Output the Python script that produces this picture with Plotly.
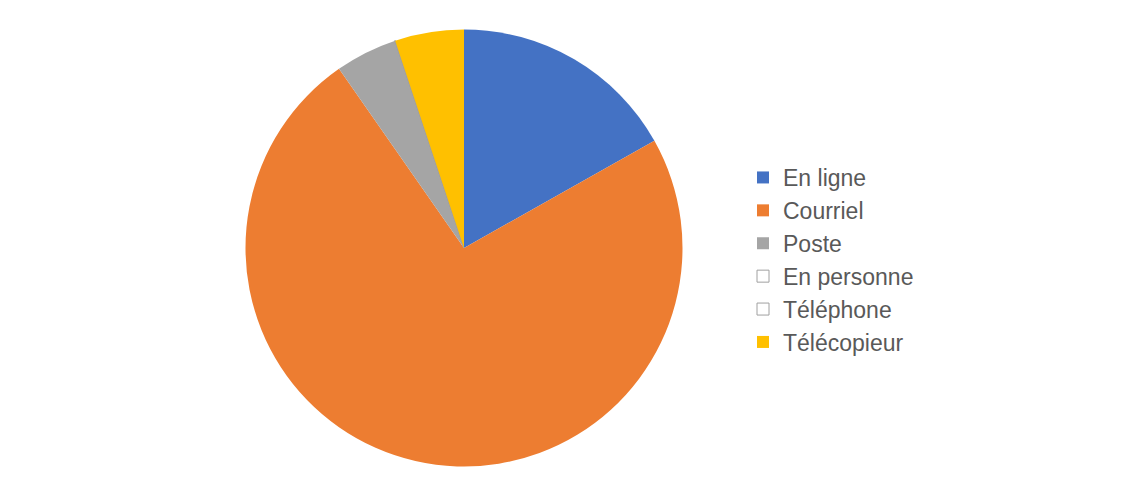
import plotly.graph_objects as go

labels = ["En ligne", "Courriel", "Poste", "En personne", "Téléphone", "Télécopieur"]
values = [33, 144, 9, 0, 0, 10]
colors = ["#4472C4", "#ED7D31", "#A5A5A5", "#FFFFFF", "#FFFFFF", "#FFC000"]
line_colors = ["#4472C4", "#ED7D31", "#A5A5A5", "#A0A0A0", "#A0A0A0", "#FFC000"]
line_widths = [0, 0, 0, 1, 1, 0]

cx, cy, r = 456, 240, 218.5
W, H = 1140, 495

fig = go.Figure(go.Pie(
    labels=labels,
    values=values,
    sort=False,
    direction="clockwise",
    rotation=0,
    textinfo="none",
    hoverinfo="label+value+percent",
    marker=dict(colors=colors, line=dict(color=line_colors, width=line_widths)),
    domain=dict(x=[(cx - r) / W, (cx + r) / W], y=[1 - (cy + r) / H, 1 - (cy - r) / H]),
))

fig.update_layout(
    width=W, height=H,
    margin=dict(l=0, r=0, t=0, b=0),
    paper_bgcolor="white",
    plot_bgcolor="white",
    font=dict(family="Liberation Sans, Arial, sans-serif", color="#595959", size=23),
    legend=dict(
        x=(773 - 38) / W, y=1 - 252 / H, xanchor="left", yanchor="middle",
        font=dict(size=23, color="#595959"),
        itemwidth=30,
        tracegroupgap=0,
        traceorder="normal",
    ),
)

fig.write_html("out.html")
